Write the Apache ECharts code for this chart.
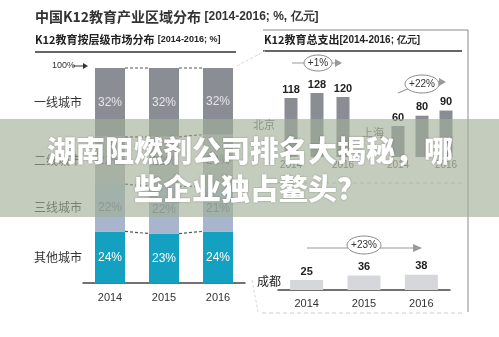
<!DOCTYPE html>
<html><head><meta charset="utf-8">
<script src="https://cdn.jsdelivr.net/npm/echarts@6/dist/echarts.min.js"></script>
<style>html,body{margin:0;padding:0;background:#fff}#c{width:499px;height:337px}</style>
</head><body><div id="c"></div>
<script>
// ---- data ----
const years = ['2014', '2015', '2016'];
const tierNames = ['其他城市', '三线城市', '二线城市', '一线城市']; // bottom -> top
const tierOther = [24, 23, 24];
const tierThird = [22, 22, 21];
const tierSecond = [22, 23, 24];
const tierFirst = [32, 32, 32];
const beijing = [118, 128, 120];
const shanghai = [60, 80, 90];
const chengdu = [25, 36, 38];
const growthLabels = ['+1%', '+22%', '+23%'];
const cityNames = ['北京', '上海', '成都'];

const NUM = '"Liberation Sans Narrow","Liberation Sans",Arial,sans-serif';
const CJK = '"Noto Sans CJK SC","Liberation Sans",sans-serif';

const chart = echarts.init(document.getElementById('c'));
const tierData = [tierOther, tierThird, tierSecond, tierFirst];
const tierColors = ['#14a1c1', '#a9b5cd', '#b3b6bb', '#8b8d95'];
const tierLabelColors = ['#ffffff', '#6f7480', '#6f7480', '#e4e5e8'];

function catAxis(gi, margin, size, color, showLine) {
  return {
    type: 'category', gridIndex: gi, data: years,
    axisTick: {show: false},
    axisLine: {show: showLine, lineStyle: {color: '#444', width: 1.5}},
    axisLabel: {margin: margin, fontSize: size, color: color, fontFamily: NUM}
  };
}
function valAxis(gi, max) {
  return {type: 'value', gridIndex: gi, min: 0, max: max, show: false, splitLine: {show: false}};
}

const series = tierData.map((d, i) => ({
  name: tierNames[i], type: 'bar', stack: 'tier', xAxisIndex: 0, yAxisIndex: 0,
  data: d, barWidth: 30, itemStyle: {color: tierColors[i]},
  label: {show: true, position: 'inside', formatter: '{c}%', fontSize: 12,
    color: tierLabelColors[i], fontFamily: NUM}
}));
function cityBar(idx, data, width, color) {
  return {type: 'bar', xAxisIndex: idx, yAxisIndex: idx, data: data, barWidth: width,
    itemStyle: {color: color},
    label: {show: true, position: 'top', distance: 3, fontSize: 11, fontWeight: 'bold',
      color: '#222', fontFamily: NUM}};
}
series.push(cityBar(1, beijing, 13, '#8b8d95'));
series.push(cityBar(2, shanghai, 13, '#8b8d95'));
series.push(cityBar(3, chengdu, 33, '#d5d7db'));

chart.setOption({
  animation: false,
  grid: [
    {left: 83, top: 68, width: 162, height: 215},
    {left: 278, top: 77, width: 78, height: 80},
    {left: 386, top: 77, width: 72, height: 80},
    {left: 278, top: 250, width: 172, height: 40}
  ],
  xAxis: [catAxis(0, 9, 11, '#333', true), catAxis(1, 3, 10, '#666', false),
          catAxis(2, 3, 10, '#666', false), catAxis(3, 8, 11, '#333', true)],
  yAxis: [valAxis(0, 100), valAxis(1, 160), valAxis(2, 155), valAxis(3, 100)],
  series: series
});

// ---- decorations ----
const g = [];
function line(x1, y1, x2, y2, color, w, dash) {
  g.push({type: 'line', shape: {x1, y1, x2, y2}, z: 5,
    style: {stroke: color, lineWidth: w, lineDash: dash || null}});
}
function arrow(x1, y1, x2, y2, color, w, hl, hw) {
  const a = Math.atan2(y2 - y1, x2 - x1);
  const bx = x2 - hl * Math.cos(a), by = y2 - hl * Math.sin(a);
  line(x1, y1, bx, by, color, w);
  g.push({type: 'polygon', z: 5, shape: {points: [[x2, y2],
    [bx + hw * Math.sin(a), by - hw * Math.cos(a)], [bx - hw * Math.sin(a), by + hw * Math.cos(a)]]},
    style: {fill: color}});
}
function text(x, y, t, opt) {
  g.push({type: 'text', x: x, y: y, z: 6, style: Object.assign({text: t, verticalAlign: 'middle',
    fill: '#222', font: '12px ' + CJK}, opt || {})});
}
function bubble(cx, cy, rx, ry, t) {
  g.push({type: 'ellipse', z: 6, shape: {cx, cy, rx, ry}, style: {fill: '#fff', stroke: '#8a8a8a', lineWidth: 1}});
  text(cx, cy, t, {align: 'center', font: '10px ' + NUM, fill: '#333'});
}

// titles
g.push({type: 'text', x: 35, y: 17, z: 6, style: {verticalAlign: 'middle', rich: {
  a: {font: 'bold 14px ' + CJK, fill: '#333'}, b: {font: 'bold 12px ' + NUM, fill: '#333'}},
  text: '{a|中国K12教育产业区域分布} {b|[2014-2016; %, 亿元]}'}});
g.push({type: 'text', x: 35, y: 40, z: 6, style: {verticalAlign: 'middle', rich: {
  a: {font: 'bold 11px ' + CJK, fill: '#222'}, b: {font: 'bold 9px ' + NUM, fill: '#222'}},
  text: '{a|K12教育按层级市场分布} {b|[2014-2016; %]}'}});
line(35, 52, 236, 52, '#666', 2);
g.push({type: 'text', x: 264, y: 40, z: 6, style: {verticalAlign: 'middle', rich: {
  a: {font: 'bold 11px ' + CJK, fill: '#222'}, b: {font: 'bold 10px ' + NUM, fill: '#222'}},
  text: '{a|K12教育总支出}{b|[2014-2016; 亿元]}'}});
g.push({type: 'polyline', z: 5, shape: {points: [[263, 30], [468, 30], [468, 312]]},
  style: {stroke: '#8a8a8a', lineWidth: 1, fill: null}});
line(263, 51, 462, 51, '#666', 2);

// 100% marker
text(52, 66, '100%', {font: '9px ' + NUM, fill: '#333'});
arrow(73, 66, 88, 66, '#333', 1, 5, 3);

// stack boundaries + tier names
let cum = [0, 0, 0];
const bounds = [];
tierData.forEach((d, i) => {
  const mid = cum[0] + d[0] / 2;
  const p = chart.convertToPixel({xAxisIndex: 0, yAxisIndex: 0}, [0, mid]);
  text(82, p[1], tierNames[i], {align: 'right', font: '12px ' + CJK, fill: '#333'});
  cum = cum.map((c, k) => c + d[k]);
  bounds.push(cum.slice());
});
bounds.forEach(b => {
  for (let k = 0; k < 2; k++) {
    const p1 = chart.convertToPixel({xAxisIndex: 0, yAxisIndex: 0}, [k, Math.min(b[k], 100)]);
    const p2 = chart.convertToPixel({xAxisIndex: 0, yAxisIndex: 0}, [k + 1, Math.min(b[k + 1], 100)]);
    line(p1[0] + 15, p1[1], p2[0] - 15, p2[1], '#555', 1.2, [3, 2]);
  }
});

// city names
text(253, 125, cityNames[0], {font: '11px ' + CJK, fill: '#666'});
text(362, 133, cityNames[1], {font: '11px ' + CJK, fill: '#666'});
text(257, 281, cityNames[2], {font: '12px ' + CJK, fill: '#222'});

// growth bubbles
arrow(292, 63, 342, 63, '#999', 1.2, 7, 4);
bubble(318, 63, 14, 8, growthLabels[0]);
line(398, 93, 410, 88, '#999', 1.2);
arrow(434, 82, 446, 82, '#999', 1.2, 7, 4);
bubble(422, 84, 17, 9, growthLabels[1]);
arrow(307, 248, 422, 248, '#999', 1.2, 9, 4);
bubble(364, 245, 17, 9, growthLabels[2]);

// dashed decorations
line(262, 183, 462, 183, '#cfcfcf', 1, [4, 3]);
line(262, 313, 462, 313, '#cfcfcf', 1, [4, 3]);
line(237, 66, 265, 51, '#d8d8d8', 1, [3, 2]);
line(252, 280, 258, 312, '#d8d8d8', 1, [3, 2]);

// watermark band
g.push({type: 'rect', z: 50, shape: {x: 0, y: 119, width: 499, height: 98},
  style: {fill: 'rgba(160,174,150,0.63)'}});
const wm = {font: '900 29px ' + CJK, fill: '#ffffff', align: 'center',
  textShadowColor: 'rgba(0,0,0,0.3)', textShadowBlur: 2};
g.push({type: 'text', x: 250, y: 151, z: 51, style: Object.assign({text: '湖南阻燃剂公司排名大揭秘，哪', verticalAlign: 'middle'}, wm)});
g.push({type: 'text', x: 250, y: 189, z: 51, style: Object.assign({text: '些企业独占鳌头？', verticalAlign: 'middle'}, wm)});

chart.setOption({graphic: g});
</script></body></html>
